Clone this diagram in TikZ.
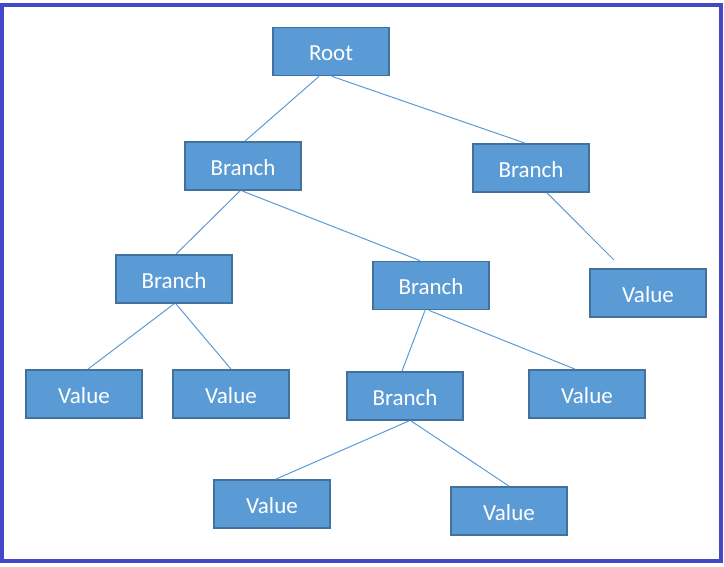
\documentclass[tikz,border=0pt]{standalone}
\usepackage{fontspec}
\setmainfont{Carlito}
\definecolor{boxfill}{HTML}{5B9BD5}
\definecolor{boxline}{HTML}{41719C}
\definecolor{frame}{HTML}{4347C8}
\begin{document}
\begin{tikzpicture}[x=1pt,y=-1pt,
  box/.style={draw=boxline,line width=1.8pt,fill=boxfill,minimum width=116pt,minimum height=48pt,inner sep=0pt,text height=18.5pt,text depth=0pt,text=white,font=\fontsize{23}{26}\selectfont},
  link/.style={draw=boxfill,line width=1pt}]
\useasboundingbox (0,0) rectangle (724,566);
\draw[frame,line width=4pt] (2,5) rectangle (721,561);
\node[box] (root) at (331,51.5) {Root};
\node[box] (bl1) at (243,166) {Branch};
\node[box] (br1) at (531,168) {Branch};
\node[box] (bl2a) at (174,279) {Branch};
\node[box] (bl2b) at (431,285.5) {Branch};
\node[box] (vr) at (648,293) {Value};
\node[box] (v1) at (84,394) {Value};
\node[box] (v2) at (231,394) {Value};
\node[box] (bl3) at (405,396) {Branch};
\node[box] (v3) at (587,394) {Value};
\node[box] (v4) at (272,504) {Value};
\node[box] (v5) at (509,511) {Value};
\coordinate (brend) at (614,260);
\draw[link] ([xshift=-12pt]root.south) -- ([xshift=2pt]bl1.north);
\draw[link] ([xshift=1pt]root.south) -- ([xshift=-6pt]br1.north);
\draw[link] ([xshift=-3pt]bl1.south) -- ([xshift=2pt]bl2a.north);
\draw[link] ([xshift=-1pt]bl1.south) -- ([xshift=-11pt]bl2b.north);
\draw[link] ([xshift=16pt]br1.south) -- (brend);
\draw[link] (bl2a.south) -- ([xshift=4pt]v1.north);
\draw[link] ([xshift=2pt]bl2a.south) -- (v2.north);
\draw[link] ([xshift=-6pt]bl2b.south) -- ([xshift=-3pt]bl3.north);
\draw[link] ([xshift=-2pt]bl2b.south) -- ([xshift=-12pt]v3.north);
\draw[link] ([xshift=4pt]bl3.south) -- ([xshift=4pt]v4.north);
\draw[link] ([xshift=6pt]bl3.south) -- (v5.north);
\end{tikzpicture}
\end{document}
